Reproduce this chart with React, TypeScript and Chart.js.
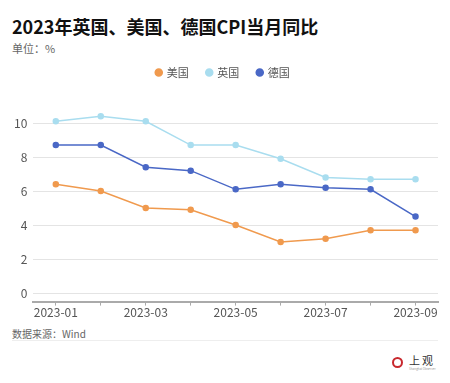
import React, { useEffect, useRef } from "react";
import { Chart, registerables } from "chart.js";

Chart.register(...registerables);

const categories = ["2023-01", "2023-02", "2023-03", "2023-04", "2023-05", "2023-06", "2023-07", "2023-08", "2023-09"];
const usValues = [6.4, 6.0, 5.0, 4.9, 4.0, 3.0, 3.2, 3.7, 3.7];
const ukValues = [10.1, 10.4, 10.1, 8.7, 8.7, 7.9, 6.8, 6.7, 6.7];
const deValues = [8.7, 8.7, 7.4, 7.2, 6.1, 6.4, 6.2, 6.1, 4.5];
const yTicks = [0, 2, 4, 6, 8, 10];

const FONT = "'Noto Sans CJK SC', 'Noto Sans', sans-serif";

const legendSpacer = {
  id: "legendSpacer",
  beforeInit(chart: any) {
    const orig = chart.legend.fit;
    chart.legend.fit = function () {
      orig.bind(chart.legend)();
      this.height += 18;
    };
  },
};

export default function App() {
  const ref = useRef<HTMLCanvasElement>(null);
  useEffect(() => {
    if (!ref.current) return;
    const mk = (label: string, data: number[], color: string) => ({
      label,
      data,
      borderColor: color,
      backgroundColor: color,
      pointBackgroundColor: color,
      pointBorderColor: color,
      borderWidth: 1.5,
      pointRadius: 2.5,
      pointHoverRadius: 3,
      tension: 0,
    });
    const chart = new Chart(ref.current, {
      type: "line",
      data: {
        labels: categories,
        datasets: [
          mk("美国", usValues, "#F09A4E"),
          mk("英国", ukValues, "#A9DDEF"),
          mk("德国", deValues, "#4A68C6"),
        ],
      },
      plugins: [legendSpacer],
      options: {
        animation: false,
        responsive: false,
        maintainAspectRatio: false,
        layout: { padding: { left: 8, right: 12, top: 0, bottom: 0 } },
        plugins: {
          tooltip: { enabled: false },
          legend: {
            position: "top",
            labels: {
              usePointStyle: true,
              pointStyle: "circle",
              boxWidth: 5,
              boxHeight: 5,
              padding: 18,
              color: "#555",
              font: { family: FONT, size: 11 },
            },
          },
        },
        scales: {
          x: {
            offset: true,
            grid: {
              display: true,
              drawOnChartArea: false,
              drawTicks: true,
              tickLength: 4,
              offset: false,
              color: "#aaa",
            },
            border: { display: true, color: "#aaa", width: 2 },
            ticks: {
              color: "#555",
              font: { family: FONT, size: 12 },
              padding: 0,
              maxRotation: 0,
              autoSkip: false,
              callback: (_v: any, i: number) => (i % 2 === 0 ? categories[i] : ""),
            },
          },
          y: {
            min: -0.5,
            max: 11,
            afterBuildTicks: (axis: any) => {
              axis.ticks = yTicks.map((v) => ({ value: v }));
            },
            grid: { color: "#e4e4e4", drawTicks: false, lineWidth: 1 },
            border: { display: false },
            ticks: {
              color: "#555",
              font: { family: FONT, size: 12 },
              padding: 6,
            },
          },
        },
      },
    });
    return () => chart.destroy();
  }, []);

  return (
    <div style={{ position: "relative", width: 450, height: 383, margin: -8, background: "#fff", fontFamily: FONT, overflow: "hidden" }}>
      <div style={{ position: "absolute", left: 12, top: 13, fontSize: 18, fontWeight: 700, color: "#111", whiteSpace: "nowrap" }}>
        2023年英国、美国、德国CPI当月同比
      </div>
      <div style={{ position: "absolute", left: 12, top: 40, fontSize: 11, color: "#666" }}>单位：%</div>
      <canvas ref={ref} width={450} height={271} style={{ position: "absolute", left: 0, top: 49 }} />
      <div style={{ position: "absolute", left: 12, top: 326, fontSize: 10, color: "#666" }}>数据来源：Wind</div>
      <div style={{ position: "absolute", left: 12, top: 340, width: 426, height: 1, background: "#eee" }} />
      <div style={{ position: "absolute", left: 392, top: 357, width: 7, height: 7, borderRadius: "50%", border: "2.5px solid #C8282D" }} />
      <div style={{ position: "absolute", left: 409, top: 352, fontSize: 11, color: "#333", letterSpacing: 2 }}>上观</div>
      <div style={{ position: "absolute", left: 409, top: 367, fontSize: 3, color: "#999" }}>Shanghai Observer</div>
    </div>
  );
}
